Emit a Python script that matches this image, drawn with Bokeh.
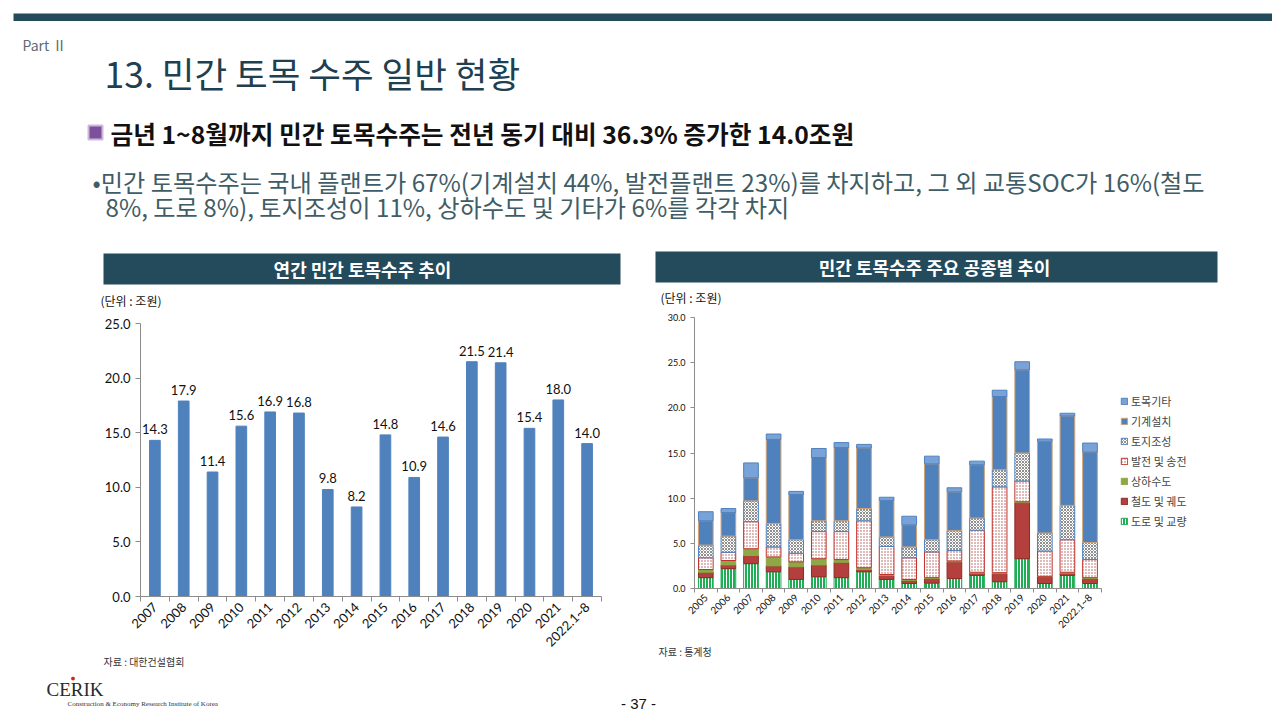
from bokeh.plotting import figure
from bokeh.models import (Range1d, ColumnDataSource, LabelSet, Title, Legend, LegendItem,
                          FixedTicker, NumeralTickFormatter)
from bokeh.layouts import column, row
from bokeh.core.properties import value
from bokeh.transform import stack
from bokeh.embed import file_html
from bokeh.resources import INLINE
from math import pi

KR = "Noto Sans CJK KR"
NUM = "Lato"
DARK = "#244b5c"

# ---------------- data ----------------
years_l = ["2007", "2008", "2009", "2010", "2011", "2012", "2013", "2014", "2015", "2016",
           "2017", "2018", "2019", "2020", "2021", "2022.1~8"]
total_l = [14.3, 17.9, 11.4, 15.6, 16.9, 16.8, 9.8, 8.2, 14.8, 10.9, 14.6, 21.5, 21.4, 15.4, 18.0, 14.0]

years_r = ["2005", "2006", "2007", "2008", "2009", "2010", "2011", "2012", "2013", "2014", "2015",
           "2016", "2017", "2018", "2019", "2020", "2021", "2022.1~8"]
road    = [1.2, 2.2, 2.75, 1.85, 1.0, 1.3, 1.2, 1.85, 1.0, 0.55, 0.6, 1.1, 1.45, 0.75, 3.3, 0.55, 1.45, 0.55]
rail    = [0.6, 0.4, 0.9, 0.65, 1.4, 1.3, 1.7, 0.25, 0.45, 0.35, 0.5, 1.85, 0.25, 0.9, 6.2, 0.75, 0.25, 0.55]
water   = [0.3, 0.5, 0.75, 1.0, 0.55, 0.7, 0.3, 0.2, 0.1, 0.1, 0.1, 0.1, 0.1, 0.1, 0.1, 0.05, 0.1, 0.1]
power   = [1.3, 0.9, 3.0, 1.1, 0.95, 3.0, 3.1, 5.2, 3.1, 2.4, 2.85, 1.15, 4.65, 9.5, 2.3, 2.8, 3.6, 2.0]
land    = [1.4, 1.8, 2.3, 2.6, 1.5, 1.2, 1.2, 1.35, 1.05, 1.2, 1.35, 2.2, 1.35, 1.9, 3.1, 2.0, 3.8, 1.9]
machine = [2.7, 2.6, 2.55, 9.3, 5.0, 7.0, 8.1, 6.7, 4.05, 2.45, 8.4, 4.3, 5.9, 8.1, 9.2, 10.15, 9.9, 10.0]
other   = [1.0, 0.45, 1.65, 0.6, 0.35, 1.0, 0.55, 0.4, 0.35, 0.95, 0.85, 0.45, 0.4, 0.7, 0.9, 0.25, 0.3, 1.0]
series_names = ["도로 및 교량", "철도 및 궤도", "상하수도", "발전 및 송전", "토지조성", "기계설치", "토목기타"]

# ---------------- top (slide header) ----------------
TOP_H = 310
MID_END = 676
top = figure(width=1272, height=TOP_H, x_range=Range1d(0, 1272), y_range=Range1d(TOP_H, 0),
             toolbar_location=None, output_backend="svg", min_border=0)
top.axis.visible = False
top.grid.visible = False
top.outline_line_color = None
top.quad(left=[13], right=[1272], top=[13], bottom=[20.5], fill_color=DARK, line_color=None)
top.text(x=[22], y=[44], text=["Part Ⅱ"], text_font=value(KR), text_font_size=value("14px"),
         text_color="#5f6b70", text_baseline="middle")
top.text(x=[104], y=[72], text=["13. 민간 토목 수주 일반 현황"], text_font=value(KR),
         text_font_size=value("35.5px"), text_color="#1e4050", text_baseline="middle")
top.quad(left=[88], right=[102], top=[125], bottom=[139], fill_color="#7d4f9c", line_color="#cdb8dc", line_width=2)
top.text(x=[110], y=[132], text=["금년 1~8월까지 민간 토목수주는 전년 동기 대비 36.3% 증가한 14.0조원"],
         text_font=value(KR), text_font_size=value("24.7px"), text_font_style="bold",
         text_color="#111111", text_baseline="middle")
top.text(x=[92, 105], y=[181, 206],
         text=["•민간 토목수주는 국내 플랜트가 67%(기계설치 44%, 발전플랜트 23%)를 차지하고, 그 외 교통SOC가 16%(철도",
               "8%, 도로 8%), 토지조성이 11%, 상하수도 및 기타가 6%를 각각 차지"],
         text_font=value(KR), text_font_size=value("24.2px"), text_color="#3f5d66", text_baseline="middle")
top.quad(left=[103, 655], right=[620, 1217], top=[253, 251], bottom=[284, 282], fill_color=DARK, line_color=None)
top.text(x=[362, 936], y=[268, 266], text=["연간 민간 토목수주 추이", "민간 토목수주  주요 공종별 추이"],
         text_font=value(KR), text_font_size=value("18px"), text_font_style="bold",
         text_color="white", text_align="center", text_baseline="middle")
top.text(x=[100, 660], y=[300, 297], text=["(단위 : 조원)", "(단위 : 조원)"], text_font=value(KR),
         text_font_size=value("12px"), text_color="#111111", text_baseline="middle")

# ---------------- left chart ----------------
CH_H = MID_END - TOP_H
idx_l = list(range(len(years_l)))
src_l = ColumnDataSource(dict(i=idx_l, val=total_l, lab=[f"{v:.1f}" for v in total_l]))
pl = figure(width=640, height=CH_H, x_range=Range1d(-0.5, len(years_l) - 0.5), y_range=Range1d(0, 25),
            toolbar_location=None, output_backend="svg",
            min_border_left=140, min_border_right=39, min_border_top=323 - TOP_H,
            min_border_bottom=MID_END - 596)
pl.vbar(x="i", top="val", width=0.37, source=src_l, fill_color="#4f81bd", line_color="#4f81bd")
pl.add_layout(LabelSet(x="i", y="val", text="lab", source=src_l, y_offset=6, text_align="center",
                       text_baseline="bottom", text_font=value(NUM), text_font_size="13px",
                       text_color="#111111"))
pl.grid.visible = False
pl.outline_line_color = None
pl.yaxis.ticker = FixedTicker(ticks=[0, 5, 10, 15, 20, 25])
pl.yaxis.formatter = NumeralTickFormatter(format="0.0")
pl.xaxis.ticker = FixedTicker(ticks=idx_l, minor_ticks=[k - 0.5 for k in range(len(years_l) + 1)])
pl.xaxis.major_label_overrides = {i: y for i, y in zip(idx_l, years_l)}
for ax in (pl.xaxis[0], pl.yaxis[0]):
    ax.axis_line_color = "#8c8c8c"
    ax.major_tick_line_color = "#8c8c8c"
    ax.major_tick_in = 0
    ax.major_tick_out = 5
    ax.minor_tick_line_color = None
    ax.major_label_text_font = NUM
    ax.major_label_text_font_size = "13px"
    ax.major_label_text_color = "#111111"
pl.xaxis.major_tick_line_color = None
pl.xaxis.major_tick_out = 0
pl.xaxis.minor_tick_line_color = "#8c8c8c"
pl.xaxis.minor_tick_in = 0
pl.xaxis.minor_tick_out = 5
pl.xaxis.major_label_standoff = 3
pl.xaxis.major_label_orientation = pi / 4
pl.add_layout(Title(text="자료 : 대한건설협회", align="left", offset=-37, standoff=-14, text_font=KR,
                    text_font_size="10px", text_font_style="normal", text_color="#333333"), "below")

# ---------------- right chart ----------------
keys = ["road", "rail", "water", "power", "land", "machine", "other"]
idx = list(range(len(years_r)))
src_r = ColumnDataSource(dict(i=idx, road=road, rail=rail, water=water, power=power,
                              land=land, machine=machine, other=other))
CAT_W = 22.6
FR_W = 632 - 54
pr = figure(width=632, height=CH_H, x_range=Range1d(-0.5, -0.5 + FR_W / CAT_W), y_range=Range1d(0, 30),
            toolbar_location=None, output_backend="svg",
            min_border_left=54, min_border_right=0, min_border_top=317 - TOP_H,
            min_border_bottom=MID_END - 588)
styles = [
    dict(fill_color="#1fae55", line_color="#1fae55", hatch_pattern="vertical_line", hatch_color="white",
         hatch_scale=3, hatch_weight=1),
    dict(fill_color="#b4403d", line_color="#8e2a27"),
    dict(fill_color="#8ea846", line_color="#8ea846"),
    dict(fill_color="white", line_color="#c0302b", hatch_pattern="dot", hatch_color="#b05050",
         hatch_scale=3, hatch_weight=1),
    dict(fill_color="white", line_color="#4f81bd", hatch_pattern="diagonal_cross", hatch_color="#444444",
         hatch_scale=3, hatch_weight=1, hatch_alpha=0.6),
    dict(fill_color="#4f81bd", line_color="#d3a375"),
    dict(fill_color="#78a2d8", line_color="#4f81bd"),
]
rends = []
for i, k in enumerate(keys):
    bottom = stack(*keys[:i]) if i > 0 else 0
    r = pr.vbar(x="i", bottom=bottom, top=stack(*keys[:i + 1]), width=0.65, source=src_r,
                line_width=1, **styles[i])
    rends.append(r)
pr.grid.visible = False
pr.outline_line_color = None
pr.yaxis.ticker = FixedTicker(ticks=[0, 5, 10, 15, 20, 25, 30])
pr.yaxis.formatter = NumeralTickFormatter(format="0.0")
pr.xaxis.ticker = FixedTicker(ticks=idx, minor_ticks=[k - 0.5 for k in range(len(years_r) + 1)])
pr.xaxis.major_label_overrides = {i: y for i, y in zip(idx, years_r)}
pr.xaxis.bounds = (-0.5, len(years_r) - 0.5)
for ax in (pr.xaxis[0], pr.yaxis[0]):
    ax.axis_line_color = "#8c8c8c"
    ax.major_tick_line_color = "#8c8c8c"
    ax.major_tick_in = 0
    ax.major_tick_out = 4
    ax.minor_tick_line_color = None
    ax.major_label_text_font = NUM
    ax.major_label_text_font_size = "9px"
    ax.major_label_text_color = "#111111"
pr.xaxis.major_tick_line_color = None
pr.xaxis.major_tick_out = 0
pr.xaxis.minor_tick_line_color = "#8c8c8c"
pr.xaxis.minor_tick_in = 0
pr.xaxis.minor_tick_out = 4
pr.xaxis.major_label_standoff = 3
pr.xaxis.major_label_text_font_size = "10px"
pr.xaxis.major_label_orientation = pi / 4
items = [LegendItem(label=series_names[i], renderers=[rends[i]]) for i in range(6, -1, -1)]
leg = Legend(items=items, location=(1120 - 694, 588 - 529), background_fill_alpha=0, border_line_color=None,
             label_text_font=KR, label_text_font_size="11px", glyph_width=8, glyph_height=8,
             label_height=12, spacing=4, padding=0, margin=0, label_standoff=3)
pr.add_layout(leg)
pr.add_layout(Title(text="자료 : 통계청", align="left", offset=-36, standoff=8, text_font=KR,
                    text_font_size="10px", text_font_style="normal", text_color="#333333"), "below")

# ---------------- footer ----------------
bot = figure(width=1272, height=712 - MID_END, x_range=Range1d(0, 1272), y_range=Range1d(712, MID_END),
             toolbar_location=None, output_backend="svg", min_border=0)
bot.axis.visible = False
bot.grid.visible = False
bot.outline_line_color = None
bot.text(x=[46], y=[689], text=["CERIK"], text_font=value("Liberation Serif"), text_font_size=value("19px"),
         text_color="#2a2a2a", text_baseline="middle")
bot.scatter(x=[72.5], y=[678], size=3, color="#d02020")
bot.text(x=[67], y=[703], text=["Construction & Economy Research Institute of Korea"],
         text_font=value("Liberation Serif"), text_font_size=value("7px"), text_color="#333333",
         text_baseline="middle")
bot.text(x=[638], y=[703], text=["- 37 -"], text_font=value("Liberation Sans"), text_font_size=value("15px"),
         text_color="#111111", text_baseline="middle", text_align="center")

layout = column(top, row(column(pl), column(pr)), bot)
open("out.html", "w").write(file_html(layout, INLINE))
